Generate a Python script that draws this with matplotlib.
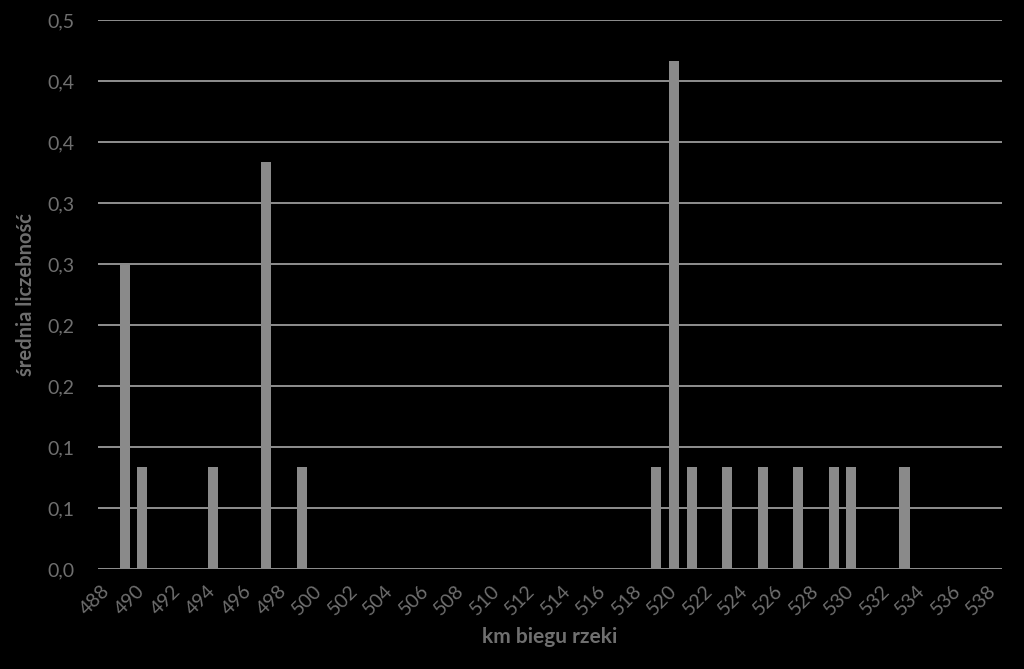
import matplotlib
matplotlib.use("Agg")
import matplotlib.pyplot as plt
import numpy as np

# river km categories 488..538, mean abundance per km
km = list(range(488, 539))
bar_km = [489, 490, 494, 497, 499, 519, 520, 521, 523, 525, 527, 529, 530, 533]
bar_vals = [0.25, 0.0833, 0.0833, 0.3333, 0.0833, 0.0833, 0.4167,
            0.0833, 0.0833, 0.0833, 0.0833, 0.0833, 0.0833, 0.0833]

yticks = [0.0, 0.05, 0.10, 0.15, 0.20, 0.25, 0.30, 0.35, 0.40, 0.45]
ytick_labels = ['0,0', '0,1', '0,1', '0,2', '0,2', '0,3', '0,3', '0,4', '0,4', '0,5']
xtick_km = km[::2]

plt.rcParams['font.family'] = ['Lato', 'DejaVu Sans']

text_col = '#6f6f6f'
bar_col = '#8a8a8a'
grid_col = '#a8a8a8'

fig = plt.figure(figsize=(10.24, 6.69), dpi=100, facecolor='black')
ax = fig.add_axes([98 / 1024, 100 / 669, 904 / 1024, 549 / 669], facecolor='black')

vals = np.zeros(len(km))
for k, v in zip(bar_km, bar_vals):
    vals[km.index(k)] = v
pos = np.arange(len(km))
ax.bar(pos, vals, width=0.57, color=bar_col, zorder=3)

ax.set_xlim(-0.5, len(km) - 0.5)
ax.set_ylim(0, 0.45)
ax.set_yticks(yticks)
ax.set_yticklabels(ytick_labels)
ax.set_xticks([km.index(k) for k in xtick_km])
ax.set_xticklabels([str(k) for k in xtick_km], rotation=45, ha='right', va='center',
                   rotation_mode='anchor')

for y in yticks:
    ax.axhline(y, color=grid_col, lw=1.2, zorder=1)

for s in ax.spines.values():
    s.set_visible(False)
ax.tick_params(axis='both', length=0, colors=text_col, labelsize=14)
ax.tick_params(axis='y', pad=17)
ax.tick_params(axis='x', pad=14)

ax.set_xlabel('km biegu rzeki', color=text_col, fontsize=15, fontweight='bold', labelpad=6)
ax.set_ylabel('średnia liczebność', color=text_col, fontsize=14.5, fontweight='bold', labelpad=8)

fig.savefig('out.png', dpi=100, facecolor='black')
